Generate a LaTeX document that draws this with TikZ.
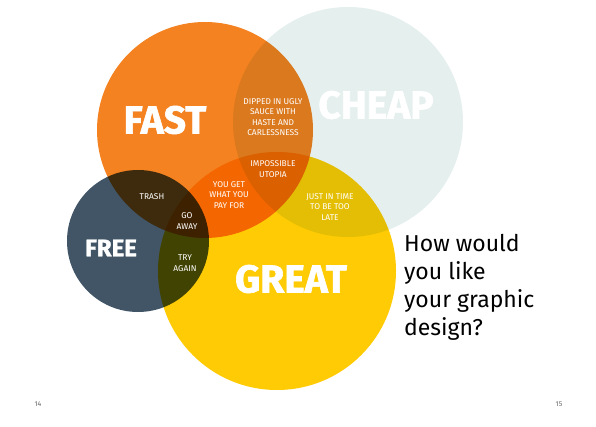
\documentclass[tikz,border=0pt]{standalone}
\usepackage{fontspec}
\setmainfont{Fira Sans}
\newfontfamily\heavyfont{Fira Sans}[BoldFeatures={FakeBold=1.5}]
\definecolor{fastc}{HTML}{F48221}
\definecolor{cheapc}{HTML}{E4EFEE}
\definecolor{greatc}{HTML}{FFCB05}
\definecolor{freec}{HTML}{415566}
\definecolor{pagec}{HTML}{666666}
\tikzset{
  big/.style={text=white,font=\heavyfont\bfseries\fontsize{39}{39}\selectfont,inner sep=0pt},
  mid/.style={text=white,font=\heavyfont\bfseries\fontsize{24}{24}\selectfont,inner sep=0pt},
  tiny/.style={text=white,font=\fontsize{8.4}{10.4}\selectfont,align=center,inner sep=0pt},
  pagenum/.style={text=pagec,font=\fontsize{7}{7}\selectfont,inner sep=0pt},
  question/.style={text=black,font=\fontsize{23}{28}\selectfont,align=left,inner sep=0pt,anchor=north west}
}
\begin{document}
\begin{tikzpicture}[x=1pt,y=-1pt]
\useasboundingbox (0,0) rectangle (596,427);
\fill[white] (0,0) rectangle (596,427);
\begin{scope}[blend group=multiply]
  \fill[cheapc] (348,122) circle[radius=115pt];
  \fill[fastc] (205,130) circle[radius=108pt];
  \fill[greatc] (277,271) circle[radius=119pt];
  \fill[freec] (138,241) circle[radius=71pt];
\end{scope}
\node[big] (fast) at (165,120) {FAST};
\node[big] (cheap) at (376,105) {CHEAP};
\node[big] (great) at (291,279) {GREAT};
\node[mid] (free) at (111,248) {FREE};
\node[tiny] (dipped) at (273,117) {DIPPED IN UGLY\\SAUCE WITH\\HASTE AND\\CARLESSNESS};
\node[tiny] (utopia) at (273,169) {IMPOSSIBLE\\UTOPIA};
\node[tiny] (youget) at (229,195) {YOU GET\\WHAT YOU\\PAY FOR};
\node[tiny] (late) at (330,207) {JUST IN TIME\\TO BE TOO\\LATE};
\node[tiny] (trash) at (152,197) {TRASH};
\node[tiny] (goaway) at (187,221) {GO\\AWAY};
\node[tiny] (try) at (185,263) {TRY\\AGAIN};
\node[question] (q) at (404,234) {How would\\you like\\your graphic\\design?};
\node[pagenum] (p14) at (38,404) {14};
\node[pagenum] (p15) at (559,404) {15};
\end{tikzpicture}
\end{document}
